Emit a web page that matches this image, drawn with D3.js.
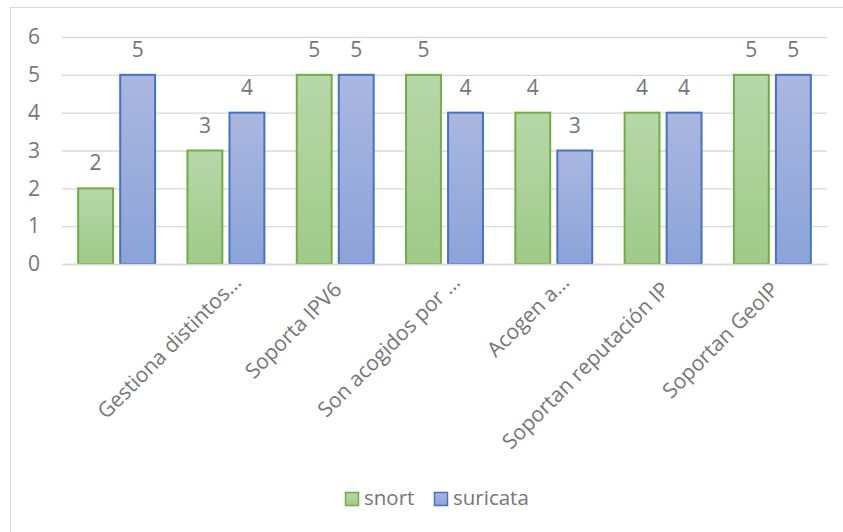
<!DOCTYPE html>
<html lang="es">
<head>
    <meta charset="UTF-8">
    <title>snort vs suricata</title>
    <style>
        body {
            margin: 0;
            background-color: #ffffff;
            font-family: 'Open Sans', sans-serif;
        }
        svg { display: block; }
        .tick text { fill: #767676; }
    </style>
</head>
<body>
    <div id="chart"></div>

    <script src="https://cdn.jsdelivr.net/npm/d3@7/dist/d3.min.js"></script>
    <script>
        // datos del grafico
        var categories = ["", "Gestiona distintos…", "Soporta IPV6", "Son acogidos por …",
                          "Acogen a…", "Soportan reputación IP", "Soportan GeoIP"];
        var snort = [2, 3, 5, 5, 4, 4, 5];
        var suricata = [5, 4, 5, 4, 3, 4, 5];
        var seriesNames = ["snort", "suricata"];
        var yTicks = [0, 1, 2, 3, 4, 5, 6];

        var w = 843, h = 532;
        var plotLeft = 62, plotRight = 827, plotTop = 37, plotBottom = 264;
        var fontSize = 21;

        var svg = d3.select("#chart").append("svg")
            .attr("width", w)
            .attr("height", h);

        // degradados de las barras
        var defs = svg.append("defs");
        var fills = [
            { id: "gSnort", top: "#b7d7a9", bot: "#9fca88", stroke: "#70ad47" },
            { id: "gSuricata", top: "#aab7e0", bot: "#8ca3d8", stroke: "#4472c4" }
        ];
        fills.forEach(function(f) {
            var g = defs.append("linearGradient").attr("id", f.id)
                .attr("x1", 0).attr("y1", 0).attr("x2", 0).attr("y2", 1);
            g.append("stop").attr("offset", "0%").attr("stop-color", f.top);
            g.append("stop").attr("offset", "100%").attr("stop-color", f.bot);
        });

        // marco del grafico
        svg.append("rect")
            .attr("x", 10.5).attr("y", 7.5)
            .attr("width", w).attr("height", h)
            .attr("fill", "none")
            .attr("stroke", "#d9d9d9");

        var x0 = d3.scaleBand()
            .domain(d3.range(categories.length))
            .range([plotLeft, plotRight]);

        var x1 = d3.scaleBand()
            .domain(seriesNames)
            .range([0, x0.bandwidth()])
            .paddingInner(0.17)
            .paddingOuter(0.385);

        var y = d3.scaleLinear()
            .domain([0, 6])
            .range([plotBottom, plotTop]);

        // lineas de cuadricula
        svg.append("g")
            .attr("transform", "translate(" + plotLeft + ",0)")
            .call(d3.axisLeft(y).tickValues(yTicks).tickSize(-(plotRight - plotLeft)).tickFormat(""))
            .call(function(g) {
                g.select(".domain").remove();
                g.selectAll("line").attr("stroke", "#d9d9d9").attr("stroke-width", 1.3);
            });

        // etiquetas eje Y
        svg.append("g")
            .attr("transform", "translate(40,0)")
            .call(d3.axisLeft(y).tickValues(yTicks).tickSize(0).tickPadding(0).tickFormat(d3.format("d")))
            .call(function(g) {
                g.select(".domain").remove();
                g.selectAll("text")
                    .attr("font-size", fontSize)
                    .attr("font-family", "'Open Sans', sans-serif");
            });

        var series = [snort, suricata];

        var groups = svg.selectAll("g.serie")
            .data(series)
            .enter().append("g")
            .attr("class", "serie");

        groups.each(function(vals, si) {
            var g = d3.select(this);
            var name = seriesNames[si];

            g.selectAll("rect")
                .data(vals)
                .enter().append("rect")
                .attr("x", function(d, i) { return x0(i) + x1(name); })
                .attr("y", function(d) { return y(d); })
                .attr("width", x1.bandwidth())
                .attr("height", function(d) { return y(0) - y(d); })
                .attr("fill", "url(#" + fills[si].id + ")")
                .attr("stroke", fills[si].stroke)
                .attr("stroke-width", 2);

            // etiquetas de datos
            g.selectAll("text")
                .data(vals)
                .enter().append("text")
                .attr("x", function(d, i) { return x0(i) + x1(name) + x1.bandwidth() / 2; })
                .attr("y", function(d) { return y(d) - 18; })
                .attr("text-anchor", "middle")
                .attr("font-size", fontSize)
                .attr("fill", "#767676")
                .text(function(d) { return d; });
        });

        // eje X con etiquetas giradas
        svg.append("g")
            .attr("transform", "translate(0," + plotBottom + ")")
            .call(d3.axisBottom(x0).tickSize(0).tickFormat(function(i) { return categories[i]; }))
            .call(function(g) {
                g.select(".domain").attr("stroke", "#d9d9d9").attr("stroke-width", 1.3);
                g.selectAll("text")
                    .attr("font-size", fontSize)
                    .attr("font-family", "'Open Sans', sans-serif")
                    .attr("text-anchor", "end")
                    .attr("y", 0)
                    .attr("dy", "0.72em")
                    .attr("transform", function(i) {
                        // las etiquetas recortadas quedan algo mas a la derecha
                        var cut = categories[i].slice(-1) === "…";
                        var dx = cut ? 6 : -3;
                        var dy = cut ? 9 : 16;
                        return "translate(" + dx + "," + dy + ") rotate(-45)";
                    });
            });

        // leyenda
        var legend = svg.append("g").attr("transform", "translate(345,492)");
        var lx = [0, 89];
        seriesNames.forEach(function(n, i) {
            legend.append("rect")
                .attr("x", lx[i] + 0.5).attr("y", 0.5)
                .attr("width", 13).attr("height", 13)
                .attr("fill", "url(#" + fills[i].id + ")")
                .attr("stroke", fills[i].stroke)
                .attr("stroke-width", 1.5);
            legend.append("text")
                .attr("x", lx[i] + 19).attr("y", 13)
                .attr("font-size", 20.5)
                .attr("fill", "#767676")
                .text(n);
        });
    </script>
</body>
</html>
